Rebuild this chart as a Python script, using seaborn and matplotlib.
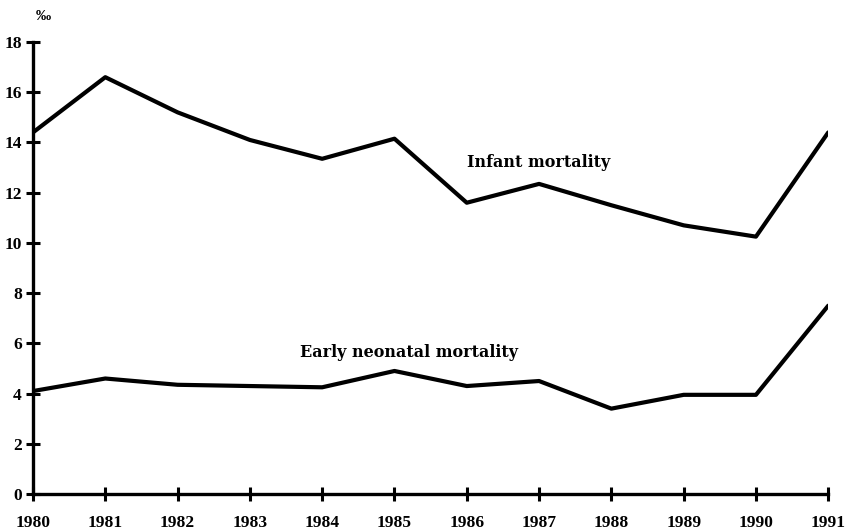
import matplotlib
matplotlib.use("Agg")
import matplotlib.pyplot as plt
import seaborn as sns
import pandas as pd

years = list(range(1980, 1992))
infant = [14.4, 16.6, 15.2, 14.1, 13.35, 14.15, 11.6, 12.35, 11.5, 10.7, 10.25, 14.4]
early_neonatal = [4.1, 4.6, 4.35, 4.3, 4.25, 4.9, 4.3, 4.5, 3.4, 3.95, 3.95, 7.5]
series_names = ["Infant mortality", "Early neonatal mortality"]
y_ticks = list(range(0, 20, 2))

df = pd.DataFrame({
    "year": years * 2,
    "value": infant + early_neonatal,
    "series": [series_names[0]] * len(years) + [series_names[1]] * len(years),
})

sns.set_style("white")
plt.rcParams["font.family"] = ["Liberation Serif", "DejaVu Serif"]
plt.rcParams["font.weight"] = "bold"
plt.rcParams["text.color"] = "black"

fig = plt.figure(figsize=(8.46, 5.32), dpi=100)
ax = fig.add_axes([0.039, 0.0714, 0.94, 0.8496])
sns.lineplot(data=df, x="year", y="value", hue="series",
             palette=["black", "black"], linewidth=3.0, legend=False, ax=ax)

ax.set_xlim(1980, 1991)
ax.set_ylim(0, 18)
ax.set_xticks(years)
ax.set_xticklabels([str(y) for y in years], fontsize=12.5, fontweight="bold")
ax.set_yticks(y_ticks)
ax.set_yticklabels([str(t) for t in y_ticks], fontsize=12.5, fontweight="bold")
ax.tick_params(axis="both", which="major", bottom=True, left=True,
               direction="inout", length=10, width=2.2, colors="black",
               labelcolor="black", pad=3)
ax.tick_params(axis="x", pad=10)
for s in ["top", "right"]:
    ax.spines[s].set_visible(False)
for s in ["left", "bottom"]:
    ax.spines[s].set_linewidth(2.4)
    ax.spines[s].set_color("black")
ax.set_xlabel("")
ax.set_ylabel("")

ax.text(1987.0, 13.2, series_names[0], ha="center", va="center", fontsize=11.5,
        fontweight="bold", color="black", family="DejaVu Serif")
ax.text(1985.2, 5.65, series_names[1], ha="center", va="center", fontsize=11.5,
        fontweight="bold", color="black", family="DejaVu Serif")
ax.text(1980.15, 19.0, "‰", ha="center", va="center", fontsize=11,
        fontweight="bold", color="black", clip_on=False)

fig.savefig("out.png", dpi=100)
